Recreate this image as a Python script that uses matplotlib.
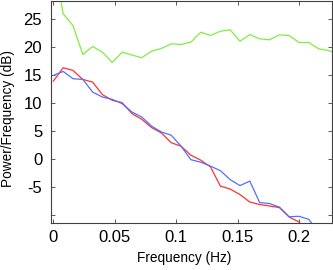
import matplotlib
matplotlib.use("Agg")
import matplotlib.pyplot as plt
import numpy as np

plt.rcParams['font.family'] = ['Liberation Sans', 'DejaVu Sans']

# frequency bins (Hz)
df = 0.008
green = [36.0, 25.9, 23.8, 18.66, 20.08, 19.07, 17.24, 19.07, 18.57, 18.08,
         19.25, 19.73, 20.56, 20.44, 20.85, 22.62, 22.04, 22.8, 23.05, 21.02,
         22.21, 21.45, 21.27, 22.16, 22.04, 20.79, 20.79, 19.67, 19.37, 18.7]
red = [13.92, 16.30, 15.82, 14.22, 13.74, 11.51, 10.50, 10.09, 8.14, 7.12,
       5.65, 4.69, 2.95, 2.33, 0.73, -0.15, -1.35, -4.77, -5.30, -6.28,
       -7.61, -8.05, -8.32, -8.59, -10.27, -11.15, -13.0]
blue = [14.93, 15.64, 14.35, 14.22, 11.97, 11.08, 10.67, 9.91, 8.42, 7.53,
        5.9, 4.87, 4.28, 2.33, -0.07, -0.51, -1.22, -2.02, -3.62, -4.68,
        -3.88, -7.70, -7.88, -8.50, -10.22, -10.15, -10.7, -13.0]

xticks = [0, 0.05, 0.1, 0.15, 0.2]
xticklabels = ['0', '0.05', '0.1', '0.15', '0.2']
yticks = [-10, -5, 0, 5, 10, 15, 20, 25]
yticklabels = ['', '-5', '0', '5', '10', '15', '20', '25']

fig = plt.figure(figsize=(3.33, 2.70), dpi=100)
ax = fig.add_axes([50.5/333, 47/270, (332-50.5)/333, 222.5/270])

for vals, col in [(green, '#80ee40'), (red, '#ff3030'), (blue, '#5070ff')]:
    f = np.arange(len(vals)) * df
    ax.plot(f, vals, color=col, lw=0.9)

ax.set_xlim(-0.0023, 0.2269)
ax.set_ylim(-11.34, 28.27)
ax.set_xticks(xticks)
ax.set_xticklabels(xticklabels)
ax.set_yticks(yticks)
ax.set_yticklabels(yticklabels)
ax.tick_params(direction='in', length=3, width=0.6, colors='#404040',
               labelcolor='black', labelsize=12, top=True, right=True)
ax.tick_params(axis='x', pad=5)
ax.tick_params(axis='y', pad=6)
for s in ax.spines.values():
    s.set_color('#404040')
    s.set_linewidth(0.8)

ax.set_xlabel('Frequency (Hz)', fontsize=9.8)
ax.set_ylabel('Power/Frequency (dB)', fontsize=9.8)
ax.xaxis.set_label_coords(0.474, -0.126)
ax.yaxis.set_label_coords(-0.126, 0.47)

fig.savefig('out.png', dpi=100)
